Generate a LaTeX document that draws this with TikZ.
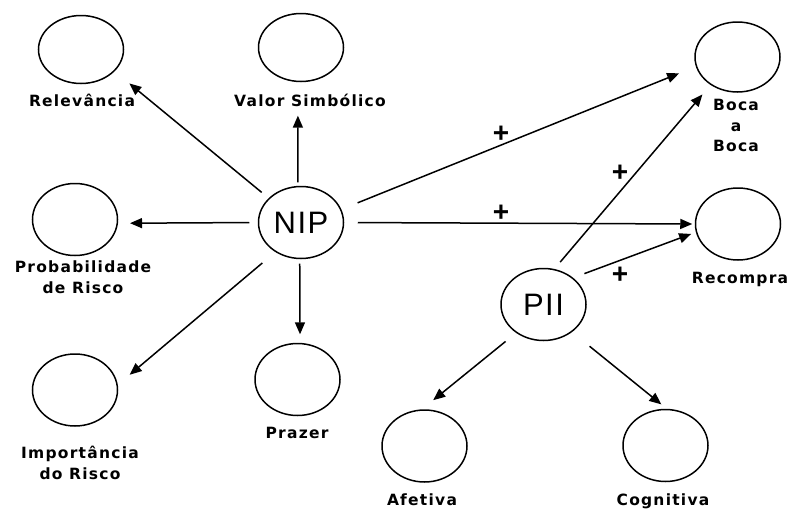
\documentclass[tikz,border=0pt]{standalone}
\usepackage{fontspec}
\newfontfamily\labelfam[LetterSpace=8]{DejaVu Sans Bold}
\newfontfamily\corefam[LetterSpace=5]{Liberation Sans}
\newfontfamily\signfam{Liberation Sans Bold}
\usetikzlibrary{arrows.meta,shapes.geometric}

\begin{document}
\begin{tikzpicture}[x=1pt, y=-1pt,
  construct/.style={ellipse, draw, line width=1.5pt, minimum width=85pt, minimum height=72pt, inner sep=0pt},
  core/.style={construct, font=\corefam\fontsize{31}{31}\selectfont},
  lbl/.style={font=\labelfam\fontsize{15.5}{21}\selectfont, align=center, inner sep=0pt},
  plussign/.style={font=\signfam\fontsize{28}{28}\selectfont, inner sep=0pt},
  link/.style={-{Triangle[length=12pt,width=10pt]}, line width=1.5pt}]

\useasboundingbox (0,0) rectangle (793,509);

% Central constructs
\node[core] (nip) at (301,222.5) {NIP};
\node[core] (pii) at (543.5,304.5) {PII};

% Dimensions and outcomes
\node[construct, minimum height=68pt] (rel) at (81,49.5) {};
\node[construct, minimum height=68pt] (val) at (301,47.5) {};
\node[construct] (prob) at (75,219.5) {};
\node[construct] (imp) at (75,390) {};
\node[construct] (praz) at (297.5,379.5) {};
\node[construct, minimum height=70pt] (boca) at (737.5,57) {};
\node[construct] (recp) at (738,224) {};
\node[construct] (afet) at (424.5,446) {};
\node[construct] (cogn) at (665.5,445.5) {};

% Labels under the circles
\node[lbl] (relL) at (82,100) {Relevância};
\node[lbl] (valL) at (310,100) {Valor Simbólico};
\node[lbl] (probL) at (83,277) {Probabilidade\\de Risco};
\node[lbl] (impL) at (80,463) {Importância\\do Risco};
\node[lbl] (prazL) at (297,433) {Prazer};
\node[lbl, font=\labelfam\fontsize{15.5}{20.5}\selectfont] (bocaL) at (736,125.5) {Boca\\a\\Boca};
\node[lbl] (recpL) at (740,279) {Recompra};
\node[lbl] (afetL) at (422,500) {Afetiva};
\node[lbl] (cognL) at (663,501.5) {Cognitiva};

% NIP arrows
\draw[link, shorten <=9pt, shorten >=19pt] (nip.143) -- (rel.-33);
\draw[link, shorten <=3.5pt, shorten >=33.5pt] (nip.95) -- (val.265);
\draw[link, shorten <=8.5pt, shorten >=12pt] (nip.180) -- (prob.-5);
\draw[link, shorten <=17pt, shorten >=15.5pt] (nip.229) -- (imp.7);
\draw[link, shorten <=4.5pt, shorten >=8.5pt] (nip.268) -- (praz.86);
\draw[link, shorten <=17.5pt, shorten >=18pt] (nip.18) -- (boca.193);
\draw[link, shorten <=13.5pt, shorten >=2.5pt] (nip.0) -- (recp.180);

% PII arrows
\draw[link, shorten <=9pt, shorten >=12.5pt] (pii.73) -- (boca.226);
\draw[link, shorten <=12pt, shorten >=5pt] (pii.42) -- (recp.191);
\draw[link, shorten <=13.5pt, shorten >=14.5pt] (pii.226) -- (afet.94);
\draw[link, shorten <=22.5pt, shorten >=7pt] (pii.316) -- (cogn.88);

% Positive signs
\node[plussign] (s1) at (501,134) {+};
\node[plussign] (s2) at (501,213) {+};
\node[plussign] (s3) at (620,173) {+};
\node[plussign] (s4) at (620,275) {+};

\end{tikzpicture}
\end{document}
